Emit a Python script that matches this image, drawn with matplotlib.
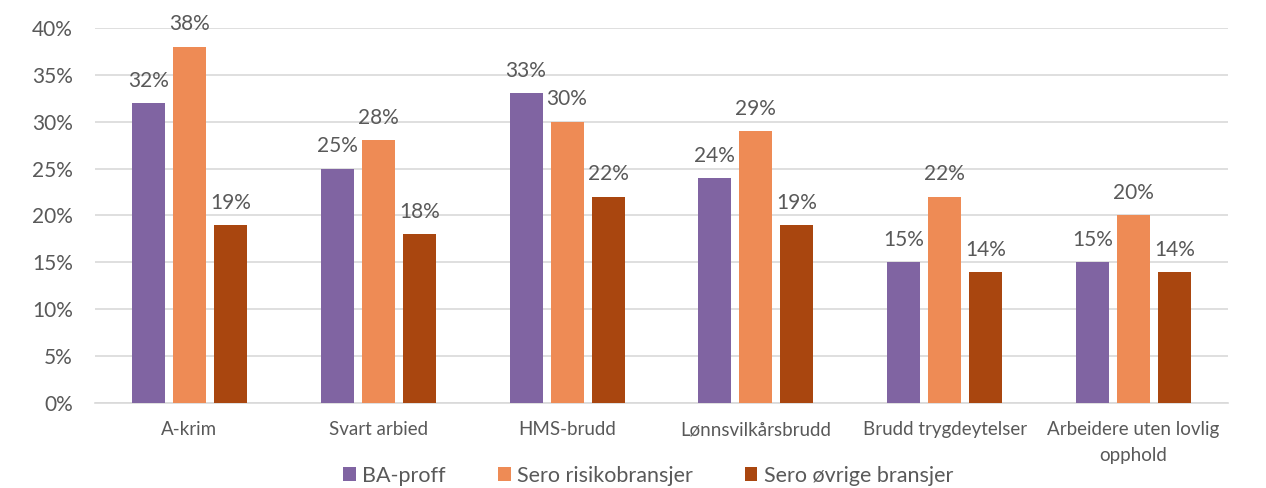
import numpy as np
import matplotlib.pyplot as plt

categories = ['A-krim', 'Svart arbied', 'HMS-brudd', 'Lønnsvilkårsbrudd',
              'Brudd trygdeytelser', 'Arbeidere uten lovlig\nopphold']
series_names = ['BA-proff', 'Sero risikobransjer', 'Sero øvrige bransjer']
ba_proff = [32, 25, 33, 24, 15, 15]
sero_risiko = [38, 28, 30, 29, 22, 20]
sero_ovrige = [19, 18, 22, 19, 14, 14]

colors = ['#8064a2', '#ee8b55', '#a9460f']
text_color = '#595959'

plt.rcParams['font.family'] = ['Lato', 'DejaVu Sans']

fig = plt.figure(figsize=(12.66, 4.88), dpi=100)
ax = fig.add_axes([0.075, 0.174, 0.895, 0.769])

x = np.arange(len(categories))
width = 0.175
offset = 0.217
for i, (vals, name) in enumerate(zip([ba_proff, sero_risiko, sero_ovrige], series_names)):
    pos = x + (i - 1) * offset
    ax.bar(pos, vals, width, color=colors[i], label=name, zorder=3)
    for p, v in zip(pos, vals):
        ax.text(p, v + 1.3, f'{v}%', ha='center', va='bottom', fontsize=15, color=text_color)

ax.set_xlim(-0.5, len(categories) - 0.5)
ax.set_ylim(0, 40)
ax.set_yticks(range(0, 41, 5))
ax.set_yticklabels([f'{t}%' for t in range(0, 41, 5)], fontsize=15, color=text_color)
ax.set_xticks(x)
ax.set_xticklabels(categories, fontsize=13.5, color=text_color, linespacing=1.6)
ax.tick_params(axis='y', length=0, pad=16)
ax.tick_params(axis='x', length=0, pad=13)
ax.grid(axis='y', color='#d9d9d9', linewidth=1.2, zorder=0)
for s in ['top', 'right', 'left']:
    ax.spines[s].set_visible(False)
ax.spines['bottom'].set_color('#d9d9d9')
ax.spines['bottom'].set_linewidth(1.2)

leg = fig.legend(loc='center', bbox_to_anchor=(0.512, 0.025), ncol=3, frameon=False,
                 fontsize=15.5, handlelength=0.6, handleheight=0.6, columnspacing=2.4,
                 handletextpad=0.3)
for t in leg.get_texts():
    t.set_color(text_color)

fig.savefig('out.png', dpi=100)
